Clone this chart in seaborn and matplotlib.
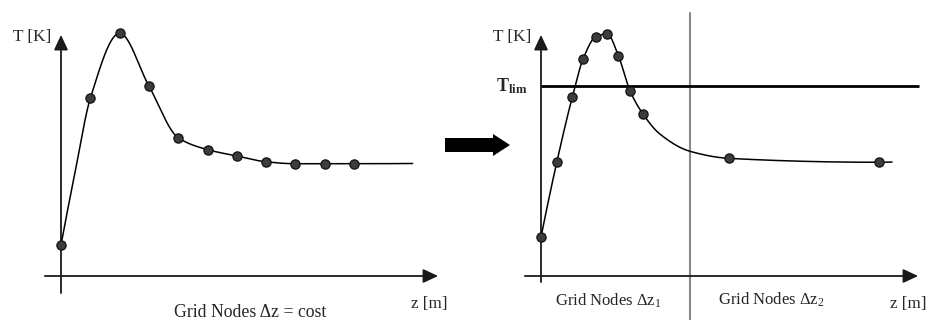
import numpy as np
import pandas as pd
import matplotlib
matplotlib.use("Agg")
import matplotlib.pyplot as plt
from matplotlib.patches import FancyArrow
import seaborn as sns

# ---------------- data ----------------
# left panel: uniform grid nodes
left_node_z = [0, 1, 2, 3, 4, 5, 6, 7, 8, 9, 10]
left_node_T = [12.8, 73.1, 99.9, 78.2, 56.9, 52.0, 49.4, 47.0, 46.2, 46.2, 46.2]
# extra shape points of the continuous profile
left_curve_extra_z = [0.5, 12.0]
left_curve_extra_T = [44.0, 46.3]

# right panel: refined grid nodes
right_node_z = [0.0, 0.54, 1.07, 1.44, 1.87, 2.26, 2.64, 3.04, 3.49, 6.43, 11.53]
right_node_T = [16.0, 46.9, 73.7, 89.4, 98.5, 99.6, 90.7, 76.1, 66.5, 48.4, 46.8]
right_curve_extra_z = [4.06, 5.09, 11.98]
right_curve_extra_T = [58.4, 51.3, 46.9]

T_lim = 78.2          # limit temperature
z_split = 5.09        # boundary between the two grid regions

axis_labels = {"T": "T [K]", "z": "z [m]"}
left_caption = "Grid Nodes \u0394z = cost"
right_captions = ["Grid Nodes \u0394z$_1$", "Grid Nodes \u0394z$_2$"]
tlim_label = r"$\mathbf{T}_{\mathbf{lim}}$"


# ---------------- helpers ----------------
def pchip(x, y, xn):
    x = np.asarray(x, float)
    y = np.asarray(y, float)
    h = np.diff(x)
    d = np.diff(y) / h
    n = len(x)
    m = np.zeros(n)
    for k in range(1, n - 1):
        if d[k - 1] * d[k] > 0:
            w1 = 2 * h[k] + h[k - 1]
            w2 = h[k] + 2 * h[k - 1]
            m[k] = (w1 + w2) / (w1 / d[k - 1] + w2 / d[k])
    m0 = ((2 * h[0] + h[1]) * d[0] - h[0] * d[1]) / (h[0] + h[1])
    m[0] = m0 if np.sign(m0) == np.sign(d[0]) else 0
    mn = ((2 * h[-1] + h[-2]) * d[-1] - h[-1] * d[-2]) / (h[-1] + h[-2])
    m[-1] = mn if np.sign(mn) == np.sign(d[-1]) else 0
    idx = np.clip(np.searchsorted(x, xn) - 1, 0, n - 2)
    t = (xn - x[idx]) / h[idx]
    h00 = 2 * t**3 - 3 * t**2 + 1
    h10 = t**3 - 2 * t**2 + t
    h01 = -2 * t**3 + 3 * t**2
    h11 = t**3 - t**2
    return (h00 * y[idx] + h10 * h[idx] * m[idx]
            + h01 * y[idx + 1] + h11 * h[idx] * m[idx + 1])


def smooth_profile(nz, nT, ez, eT):
    z = np.array(list(nz) + list(ez), float)
    T = np.array(list(nT) + list(eT), float)
    o = np.argsort(z)
    z, T = z[o], T[o]
    zz = np.linspace(z[0], z[-1], 800)
    return pd.DataFrame({"z": zz, "T": pchip(z, T, zz)})


# ---------------- style ----------------
sns.set_style("white")
plt.rcParams["font.family"] = ["Liberation Serif", "DejaVu Serif"]
plt.rcParams["mathtext.fontset"] = "custom"
plt.rcParams["mathtext.rm"] = "Liberation Serif"
plt.rcParams["mathtext.it"] = "Liberation Serif:italic"
plt.rcParams["mathtext.bf"] = "Liberation Serif:bold"

W, H = 928, 320
PXZ, PXT = 29.3, 2.43          # pixels per unit
XL, YL = (-2.0, 13.2), (-18.0, 113.0)
FS = 12.3

fig = plt.figure(figsize=(W / 100, H / 100), dpi=100)


def make_axes(origin_x, origin_y=276):
    x0 = origin_x + XL[0] * PXZ
    w = (XL[1] - XL[0]) * PXZ
    ybot = origin_y - YL[0] * PXT
    h = (YL[1] - YL[0]) * PXT
    ax = fig.add_axes([x0 / W, (H - ybot) / H, w / W, h / H])
    ax.set_xlim(*XL)
    ax.set_ylim(*YL)
    ax.axis("off")
    return ax


def draw_arrow(ax, start, end):
    ax.annotate("", xy=end, xytext=start,
                arrowprops=dict(arrowstyle="-|>,head_length=0.9,head_width=0.42",
                                lw=1.3, color="#1a1a1a", shrinkA=0, shrinkB=0,
                                mutation_scale=10),
                annotation_clip=False)


dot_kw = dict(s=44, color="#3c3c3c", edgecolor="#111111", linewidth=0.9,
              zorder=5, legend=False)

# ---------------- left panel ----------------
axL = make_axes(61)
draw_arrow(axL, (-0.55, 0), (12.87, 0))
draw_arrow(axL, (0, -7.0), (0, 99.2))
profL = smooth_profile(left_node_z, left_node_T, left_curve_extra_z, left_curve_extra_T)
sns.lineplot(data=profL, x="z", y="T", ax=axL, color="black", lw=1.1, zorder=4)
sns.scatterplot(x=left_node_z, y=left_node_T, ax=axL, **dot_kw)
axL.set_xlim(*XL); axL.set_ylim(*YL); axL.axis("off")
axL.text(-0.99, 98.4, axis_labels["T"], ha="center", va="center", fontsize=FS)
axL.text(12.56, -11.5, axis_labels["z"], ha="center", va="center", fontsize=FS)
axL.text(6.47, -15.0, left_caption, ha="center", va="center", fontsize=12.8)

# ---------------- right panel ----------------
axR = make_axes(541)
draw_arrow(axR, (-0.55, 0), (12.87, 0))
draw_arrow(axR, (0, -2.5), (0, 99.2))
axR.plot([z_split, z_split], [108.2, YL[0]], color="#8a8a8a", lw=1.5, zorder=1,
         clip_on=False)
axR.plot([0, 12.9], [T_lim, T_lim], color="black", lw=2.0, zorder=3,
         solid_capstyle="butt")
profR = smooth_profile(right_node_z, right_node_T, right_curve_extra_z, right_curve_extra_T)
sns.lineplot(data=profR, x="z", y="T", ax=axR, color="black", lw=1.1, zorder=4)
sns.scatterplot(x=right_node_z, y=right_node_T, ax=axR, **dot_kw)
axR.set_xlim(*XL); axR.set_ylim(*YL); axR.axis("off")
axR.text(-0.99, 98.4, axis_labels["T"], ha="center", va="center", fontsize=FS)
axR.text(-0.45, T_lim, tlim_label, ha="right", va="center", fontsize=13)
axR.text(2.29, -10.3, right_captions[0], ha="center", va="center", fontsize=12)
axR.text(7.85, -9.9, right_captions[1], ha="center", va="center", fontsize=12)
axR.text(12.55, -11.5, axis_labels["z"], ha="center", va="center", fontsize=FS)

# ---------------- big transition arrow (decoration) ----------------
ov = fig.add_axes([0, 0, 1, 1], zorder=10)
ov.set_xlim(0, W)
ov.set_ylim(H, 0)
ov.axis("off")
ov.patch.set_alpha(0)
ov.add_patch(FancyArrow(445, 145, 65, 0, width=14, head_width=22, head_length=17,
                        length_includes_head=True, color="black", lw=0))

fig.savefig("out.png", dpi=100)
